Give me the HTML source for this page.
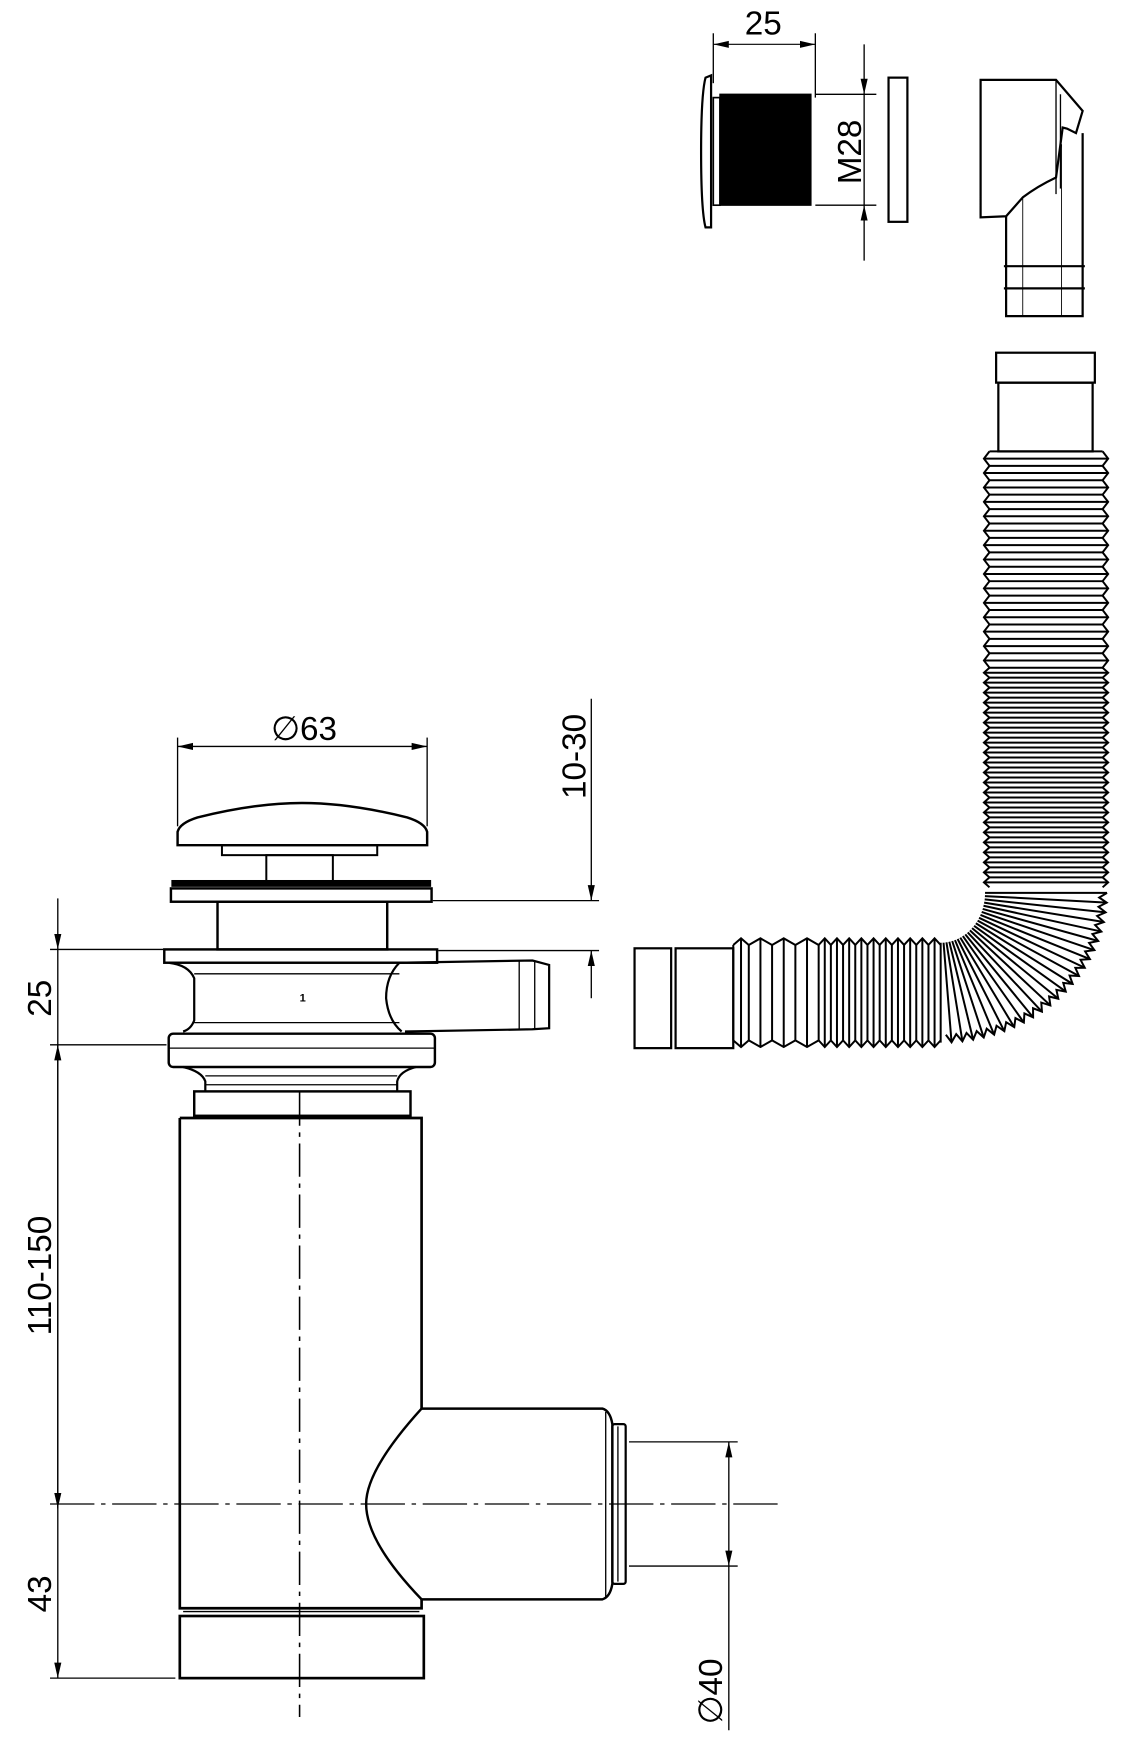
<!DOCTYPE html>
<html><head><meta charset="utf-8"><style>
html,body{margin:0;padding:0;background:#fff;}
svg{display:block}
text{font-family:"Liberation Sans",sans-serif;fill:#000}
</style></head><body>
<svg id="s" width="1136" height="1748" viewBox="0 0 1024 1576" xmlns="http://www.w3.org/2000/svg">
<defs>
<marker id="a" viewBox="0 0 14 8" refX="14" refY="4" markerWidth="14" markerHeight="8" orient="auto-start-reverse" markerUnits="userSpaceOnUse"><path d="M0,0.8 L14,4 L0,7.2 z" fill="#000"/></marker>
</defs>
<g fill="none" stroke="#000" stroke-width="1.2">
<!-- top thread piece -->
<line x1="643" y1="30" x2="643" y2="75"/><line x1="735" y1="30" x2="735" y2="88"/>
<line x1="643" y1="40" x2="735" y2="40" marker-start="url(#a)" marker-end="url(#a)" stroke-width="1"/>
<path d="M641,68 L641,205 L636,205 Q632,190 632,137 Q632,85 636,70 Z" stroke-width="2"/>
<rect x="643" y="88" width="6" height="97" stroke-width="1.5"/>
<rect x="649" y="85" width="82" height="100" fill="#000"/>
<line x1="735" y1="85" x2="790" y2="85"/><line x1="735" y1="185" x2="790" y2="185"/>
<line x1="779" y1="40" x2="779" y2="85" marker-end="url(#a)"/>
<line x1="779" y1="235" x2="779" y2="185" marker-end="url(#a)"/>
<line x1="779" y1="85" x2="779" y2="185"/>
<rect x="801" y="70" width="17" height="130" stroke-width="2"/>
<!-- elbow piece -->
<path d="M884,72 L952,72 L976,100 L970,120 L962,116 L958,115 L952,160 Q935,168 922,178 L907,195 L884,196 Z" stroke-width="2"/>
<path d="M907,195 L907,285 L976,285 L976,120" stroke-width="2"/>
<line x1="952" y1="72" x2="952" y2="175"/><line x1="956" y1="85" x2="956" y2="170"/>
<line x1="922" y1="178" x2="922" y2="285" stroke-width="0.8"/><line x1="957" y1="130" x2="957" y2="285" stroke-width="0.8"/>
<line x1="905" y1="240" x2="978" y2="240" stroke-width="2"/><line x1="905" y1="260" x2="978" y2="260" stroke-width="2"/>
<!-- hose top end -->
<rect x="898" y="318" width="89" height="27" stroke-width="2"/>
<rect x="900" y="345" width="85" height="62" stroke-width="2"/>
<!-- hose horizontal end -->
<rect x="572" y="855" width="33" height="90" stroke-width="2"/>
<rect x="609" y="855" width="52" height="90" stroke-width="2"/>
<g id="hose" stroke-width="1.8"></g>
<!-- cap -->
<path d="M160,762 L160,750 Q162,742 178,737 Q230,724 272,724 Q315,724 367,737 Q383,742 385,750 L385,762 Z" stroke-width="2.2"/>
<rect x="200" y="762" width="140" height="9" stroke-width="1.8"/>
<rect x="240" y="771" width="60" height="25" stroke-width="1.8"/>
<rect x="155" y="794" width="233" height="5" fill="#000"/>
<rect x="154" y="801" width="235" height="12" stroke-width="2.2"/>
<rect x="196" y="813" width="153" height="43" stroke-width="2.2"/>
<rect x="148" y="856" width="246" height="12" stroke-width="2.2"/>
<path d="M152,868 Q170,870 175,882 L175,920 Q172,928 165,930 M360,868 Q348,880 348,900 Q350,920 362,930" stroke-width="2"/>
<line x1="175" y1="878" x2="360" y2="878"/><line x1="175" y1="922" x2="360" y2="922"/>
<path d="M360,868 L480,866 L495,870 L495,927 L480,928 L365,930" stroke-width="2"/>
<line x1="468" y1="866" x2="468" y2="928"/><line x1="482" y1="866" x2="482" y2="928"/>
<text x="270" y="903" font-size="10" font-weight="bold" style="fill:#000;stroke:none">1</text>
<rect x="152" y="932" width="240" height="30" rx="4" stroke-width="2.2"/>
<line x1="152" y1="945" x2="392" y2="945"/>
<path d="M165,962 Q182,966 185,975 L185,985 M375,962 Q360,966 358,975 L358,985" stroke-width="2"/>
<line x1="185" y1="970" x2="358" y2="970"/><line x1="185" y1="978" x2="358" y2="978"/>
<rect x="175" y="984" width="195" height="22" stroke-width="2.2"/>
<!-- main tube -->
<path d="M162,1008 L380,1008 L380,1270 M162,1008 L162,1450 L380,1450 L380,1442" stroke-width="2.4"/>
<line x1="165" y1="1453" x2="378" y2="1453"/>
<rect x="162" y="1457" width="220" height="56" stroke-width="2.4"/>
<path d="M380,1270 L543,1270 Q550,1272 552,1284 L552,1428 Q550,1440 543,1442 L380,1442" stroke-width="2.2"/>
<path d="M380,1270 Q330,1325 330,1356 Q330,1390 380,1442" stroke-width="2.2"/>
<line x1="546" y1="1273" x2="546" y2="1440"/>
<rect x="552" y="1284" width="12" height="144" rx="2" stroke-width="2"/><line x1="557" y1="1286" x2="557" y2="1426"/>
<!-- centerlines -->
<line x1="270" y1="985" x2="270" y2="1548" stroke-dasharray="30,6,4,6" stroke-width="1.4"/>
<line x1="45" y1="1356" x2="703" y2="1356" stroke-dasharray="40,6,4,6" stroke-width="1.2"/>
<!-- dims left -->
<line x1="45" y1="856" x2="147" y2="856"/><line x1="45" y1="942" x2="150" y2="942"/>
<line x1="45" y1="1513" x2="158" y2="1513"/>
<line x1="52" y1="810" x2="52" y2="856" marker-end="url(#a)"/>
<line x1="52" y1="1360" x2="52" y2="942" marker-start="url(#a)" marker-end="url(#a)"/>
<line x1="52" y1="942" x2="52" y2="1513" marker-end="url(#a)"/>
<line x1="52" y1="856" x2="52" y2="942"/>
<!-- phi 63 -->
<line x1="160" y1="665" x2="160" y2="745"/><line x1="385" y1="665" x2="385" y2="745"/>
<line x1="160" y1="673" x2="385" y2="673" marker-start="url(#a)" marker-end="url(#a)"/>
<!-- 10-30 -->
<line x1="390" y1="812" x2="540" y2="812"/><line x1="395" y1="857" x2="540" y2="857"/>
<line x1="533" y1="630" x2="533" y2="812" marker-end="url(#a)"/>
<line x1="533" y1="900" x2="533" y2="857" marker-end="url(#a)"/>
<!-- phi 40 -->
<line x1="567" y1="1300" x2="665" y2="1300"/><line x1="567" y1="1412" x2="665" y2="1412"/>
<line x1="657" y1="1300" x2="657" y2="1412" marker-start="url(#a)" marker-end="url(#a)"/>
<line x1="657" y1="1412" x2="657" y2="1560"/>
</g>
<g style="stroke:none">
<text x="688" y="31" font-size="30" text-anchor="middle">25</text>
<text transform="translate(776,137) rotate(-90)" font-size="30" text-anchor="middle">M28</text>
<text x="274" y="667" font-size="30" text-anchor="middle">∅63</text>
<text transform="translate(528,682) rotate(-90)" font-size="30" text-anchor="middle">10-30</text>
<text transform="translate(46,900) rotate(-90)" font-size="30" text-anchor="middle">25</text>
<text transform="translate(46,1150) rotate(-90)" font-size="30" text-anchor="middle">110-150</text>
<text transform="translate(46,1437) rotate(-90)" font-size="30" text-anchor="middle">43</text>
<text transform="translate(651,1525) rotate(-90)" font-size="30" text-anchor="middle">∅40</text>
</g>
</svg>
<script>
var g=document.getElementById('hose'),h='';
function L(x1,y1,x2,y2){h+='<line x1="'+x1.toFixed(1)+'" y1="'+y1.toFixed(1)+'" x2="'+x2.toFixed(1)+'" y2="'+y2.toFixed(1)+'"/>';}
// vertical section
var y=407,p;
while(y<798){p=y<590?13:9;
 h+='<polyline points="'+[[892,y],[887,y+p/2],[892,y+p]].join(' ')+'"/>';
 h+='<polyline points="'+[[994,y],[999,y+p/2],[994,y+p]].join(' ')+'"/>';
 L(892,y,994,y);L(887,y+p/2,999,y+p/2);y+=p;}
// bend
var cx=848,cy=805,N=24,pts=[];
for(var i=0;i<=N;i++){var t=i/N*Math.PI/2;var c=Math.cos(t),s=Math.sin(t);
 var xi=cx+40*c,yi=cy+45*s,xo=cx+150*c,yo=cy+135*s;L(xi,yi,xo,yo);
 if(i<N){var t2=(i+0.5)/N*Math.PI/2;pts.push([xo,yo],[cx+143*Math.cos(t2),cy+128*Math.sin(t2)]);}}
h+='<polyline points="'+pts.join(' ')+'"/>';
// horizontal section
var x=848,arr=[];
while(x>745){arr.push(x);x-=11;}
while(x>=661){arr.push(x);x-=21;}
arr.push(661);
for(var k=0;k<arr.length-1;k++){var a=arr[k],b=arr[k+1],m=(a+b)/2;
 h+='<polyline points="'+a+',852 '+m+',846 '+b+',852"/>';
 h+='<polyline points="'+a+',938 '+m+',944 '+b+',938"/>';
 L(m,846,m,944);L(b,852,b,938);}
g.innerHTML=h;
</script>
</body></html>
